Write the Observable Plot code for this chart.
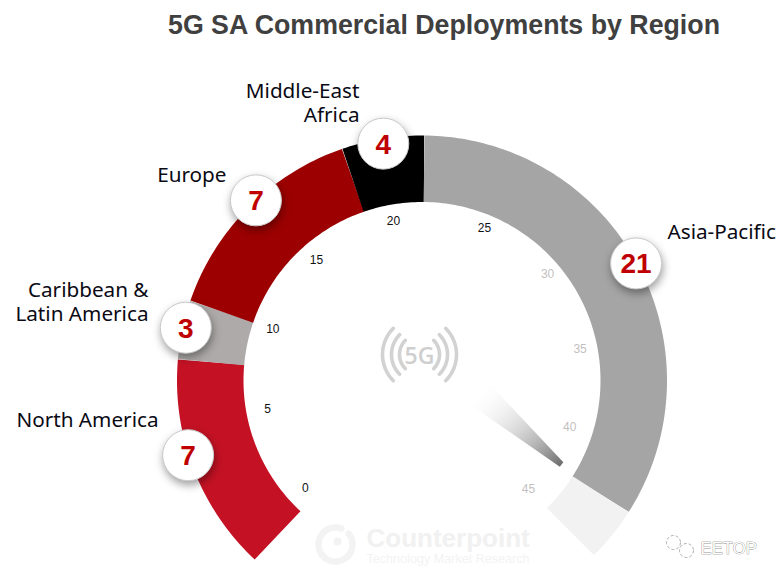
<!DOCTYPE html>
<html>
<head>
<meta charset="utf-8">
<script src="https://cdn.jsdelivr.net/npm/d3@7"></script>
<script src="https://cdn.jsdelivr.net/npm/@observablehq/plot@0.6"></script>
<style>
  html, body { margin: 0; padding: 0; background: #fff; overflow: hidden; }
  #title { height: 50px; box-sizing: border-box; padding: 10px 0 0 168px; white-space: nowrap;
           font: bold 26.75px "Liberation Sans", Arial, sans-serif; color: #404040; line-height: 30px; }
  svg { display: block; }
  [stroke="#c9c9c9"] { filter: drop-shadow(1px 4px 4px rgba(0,0,0,.38)); }
</style>
</head>
<body>
<div id="title">5G SA Commercial Deployments by Region</div>
<div id="chart"></div>
<script>
// ---- Data ----
const regions = ["North America", "Caribbean & Latin America", "Europe", "Middle-East Africa", "Asia-Pacific"];
const regionLabels = ["North America", "Caribbean &\nLatin America", "Europe", "Middle-East\nAfrica", "Asia-Pacific"];
const deployments = [7, 3, 7, 4, 21];
const regionColors = ["#c41224", "#aeaaaa", "#9c0000", "#000000", "#a5a5a5"];
// where each band starts / ends when read against the dial's tick labels
const bandStops = [-0.66, 7.93, 10.25, 18.84, 22.08, 42.23];
const remainderEnd = 44.38;
const badgeReadings = [4.18, 9.19, 14.93, 20.45, 32.12];
const dialTicks = [0, 5, 10, 15, 20, 25, 30, 35, 40, 45];
const needleValue = 42;

// ---- Layout ----
const W = 783, H = 529, topOffset = 50;
const cx = 421.5, cy = 380, rOuter = 245, rInner = 178.5;
const dial = d3.scaleLinear().domain([0, 45]).range([-133, 139.25]);
const polar = (deg, r, x0 = cx, y0 = cy) => {
  const a = deg * Math.PI / 180;
  return { x: x0 + r * Math.sin(a), y: y0 - r * Math.cos(a) };
};
const arc = (a0, a1, r, x0, y0) => {
  const n = Math.max(2, Math.ceil(Math.abs(a1 - a0)));
  return d3.range(n + 1).map(i => polar(a0 + (a1 - a0) * i / n, r, x0, y0));
};
const bandMark = (v0, v1, color) =>
  Plot.line(arc(dial(v0), dial(v1), (rOuter + rInner) / 2), {
    x: "x", y: "y", stroke: color, strokeWidth: rOuter - rInner, strokeLinecap: "butt", curve: "linear"
  });

const labelAnchors = [
  { x: 158, y: 426, textAnchor: "end" },
  { x: 148, y: 320, textAnchor: "end" },
  { x: 226, y: 181, textAnchor: "end" },
  { x: 359, y: 121, textAnchor: "end" },
  { x: 667, y: 238, textAnchor: "start" }
];
const badgeRadius = [245.5, 242, 245, 240, 244];
const tickAngle = [-133, -101.9, -72.5, -43, -11.3, 22, 50.3, 80, 109.4, 137.4];
const tickRadius = [163, 160.4, 159, 158.5, 158, 160, 160, 158, 154, 153.6];

const badges = regions.map((r, i) => ({ region: r, n: deployments[i], ...polar(dial(badgeReadings[i]), badgeRadius[i]) }));
const tickData = dialTicks.map((v, i) => ({ v, ...polar(tickAngle[i], tickRadius[i], 424, 376) }));

// needle
const tip = polar(dial(needleValue), 163);
const needle = [
  { x: tip.x + 1.8, y: tip.y - 2.4 },
  { x: tip.x - 1.8, y: tip.y + 2.0 },
  { x: tip.x - 97, y: tip.y - 64 },
  { x: tip.x - 77, y: tip.y - 86 }
];

// 5G icon
const ic = { x: 419, y: 354 };
const iconArcs = [37, 28, 20].flatMap(r => [
  arc(-135, -45, r, ic.x, ic.y),
  arc(45, 135, r, ic.x, ic.y)
]);

const sans = "'Noto Sans', sans-serif";
const arial = "'Liberation Sans', Arial, sans-serif";

const plot = Plot.plot({
  width: W, height: H,
  margin: 0,
  x: { domain: [0, W], range: [0, W], axis: null },
  y: { domain: [topOffset, topOffset + H], range: [0, H], axis: null },
  style: { background: "transparent" },
  marks: [
    () => {
      const defs = d3.create("svg:defs");
      const g = defs.append("linearGradient").attr("id", "needleFade");
      g.attr("x1", 0).attr("y1", 0).attr("x2", 1).attr("y2", 1);
      g.append("stop").attr("offset", "12%").attr("stop-color", "#ffffff").attr("stop-opacity", 0);
      g.append("stop").attr("offset", "100%").attr("stop-color", "#666666").attr("stop-opacity", 1);
      return defs.node();
    },
    // gauge bands
    regions.map((r, i) => bandMark(bandStops[i], bandStops[i + 1], regionColors[i])),
    bandMark(bandStops[5], remainderEnd, "#f2f2f2"),
    // needle
    Plot.line(needle.concat(needle[0]), { x: "x", y: "y", fill: "url(#needleFade)", stroke: "none", curve: "linear" }),
    // 5G icon
    iconArcs.map(a => Plot.line(a, { x: "x", y: "y", stroke: "#d2d2d2", strokeWidth: 3.6, strokeLinecap: "round", curve: "linear" })),
    Plot.text(["5G"], { x: ic.x, y: 363, text: d => d, fontFamily: "'Open Sans', sans-serif", fontWeight: 600, fontSize: 23, fill: "#cfcfcf", lineAnchor: "bottom" }),
    // dial ticks
    Plot.text(tickData, {
      x: "x", y: "y", text: d => String(d.v), fontFamily: arial, fontSize: 12,
      fill: d => d.v >= 30 ? "#c4bfbf" : "#111111"
    }),
    // watermark
    Plot.line(arc(50, 380, 17, 335, 544), { x: "x", y: "y", stroke: "#f3f3f3", strokeWidth: 6.5, curve: "linear" }),
    Plot.dot([{ x: 337, y: 541 }], { x: "x", y: "y", r: 4, fill: "#f3f3f3" }),
    Plot.text(["Counterpoint"], { x: 366, y: 546, text: d => d, textAnchor: "start", lineAnchor: "bottom", fontFamily: arial, fontWeight: "bold", fontSize: 26, fill: "#f1f1f1" }),
    Plot.text(["Technology Market Research"], { x: 366, y: 562, text: d => d, textAnchor: "start", lineAnchor: "bottom", fontFamily: arial, fontSize: 12.6, fill: "#f3f3f3" }),
    // EETOP signature
    Plot.dot([{ x: 673, y: 542 }, { x: 686, y: 550 }], { x: "x", y: "y", r: 7, fill: "#fff", stroke: "#999", strokeWidth: 0.8, strokeDasharray: "3,2" }),
    Plot.text(["EETOP"], { x: 700, y: 553, text: d => d, textAnchor: "start", lineAnchor: "bottom", fontFamily: arial, fontSize: 16.7, fill: "#ffffff", stroke: "#666", strokeWidth: 0.6 }),
    // badges
    Plot.dot(badges, { x: "x", y: "y", r: 25.5, fill: "#ffffff", stroke: "#c9c9c9", strokeWidth: 1 }),
    Plot.text(badges, { x: "x", y: d => d.y + 1, text: d => String(d.n), fontFamily: arial, fontWeight: "bold", fontSize: 28, fill: "#c00000" }),
    // region labels
    regionLabels.map((t, i) => Plot.text([t], {
      x: labelAnchors[i].x, y: labelAnchors[i].y, text: d => d, textAnchor: labelAnchors[i].textAnchor,
      lineAnchor: "bottom", lineHeight: 1.16, fontFamily: sans, fontSize: 20.7, fill: "#0a0a14"
    }))
  ]
});
document.getElementById("chart").appendChild(plot);
</script>
</body>
</html>
